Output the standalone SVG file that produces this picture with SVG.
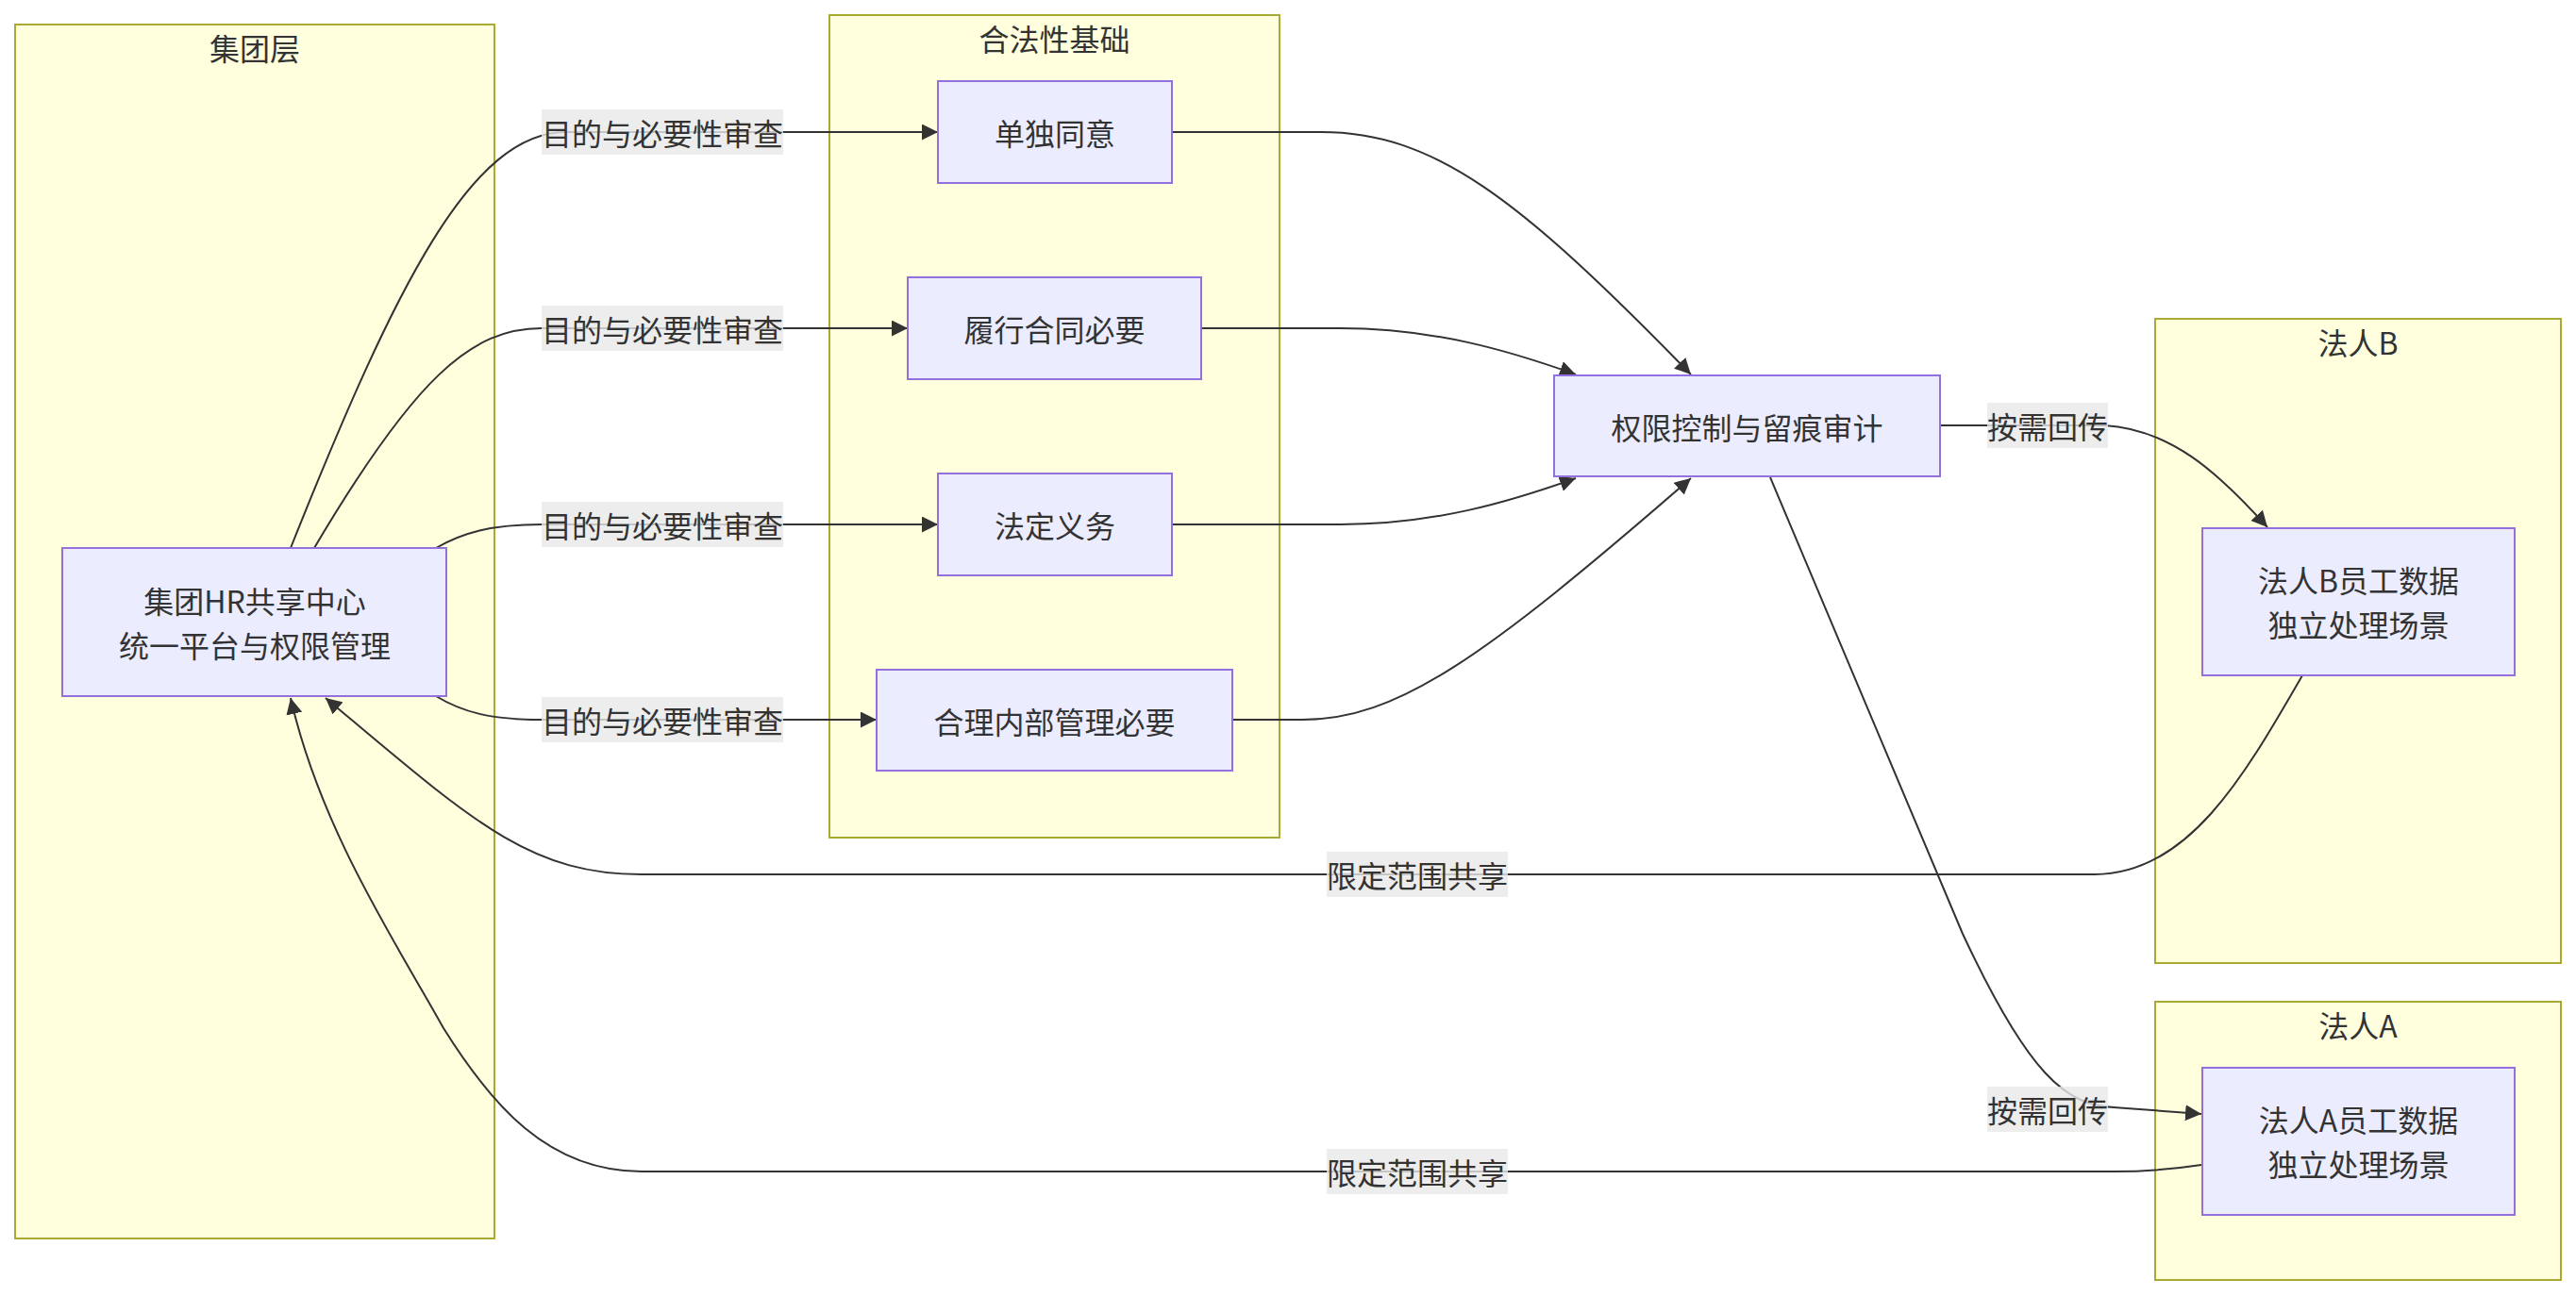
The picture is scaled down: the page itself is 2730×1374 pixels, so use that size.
<svg xmlns="http://www.w3.org/2000/svg" width="2730" height="1374" viewBox="0 0 2730 1374">
<style>
.cluster rect{fill:#ffffde;stroke:#aaaa33;stroke-width:2}
.node rect{fill:#ececff;stroke:#9370db;stroke-width:2}
text{font-family:"Noto Sans CJK SC","Noto Sans",sans-serif;font-size:32px;fill:#333;text-anchor:middle;dominant-baseline:central}
.edge{fill:none;stroke:#333;stroke-width:2}
.lbl rect{fill:#e8e8e8;fill-opacity:0.8}
</style>
<defs>
<marker id="arr" viewBox="0 0 10 10" refX="10" refY="5" markerUnits="userSpaceOnUse" markerWidth="17" markerHeight="17" orient="auto">
<path d="M0,0 L10,5 L0,10 z" fill="#333"/>
</marker>
</defs>
<rect width="2730" height="1374" fill="#ffffff"/>
<g id="cluster-group" class="cluster">
<rect x="16" y="26" width="508" height="1287"/>
<text x="270" y="50">集团层</text>
</g>
<g id="cluster-legal" class="cluster">
<rect x="879" y="16" width="477" height="872"/>
<text x="1117.5" y="40">合法性基础</text>
</g>
<g id="cluster-b" class="cluster">
<rect x="2284" y="338" width="430" height="683"/>
<text x="2499" y="362">法人B</text>
</g>
<g id="cluster-a" class="cluster">
<rect x="2284" y="1062" width="430" height="295"/>
<text x="2499" y="1086">法人A</text>
</g>
<g id="connectors">
<path class="edge" d="M308,581 C420,300 500,140 600,140 L994,140" marker-end="url(#arr)"/>
<path class="edge" d="M333,581 C440,400 500,348 574,348 L962,348" marker-end="url(#arr)"/>
<path class="edge" d="M462,581 C490,565 520,556 574,556 L994,556" marker-end="url(#arr)"/>
<path class="edge" d="M462,738 C490,755 520,763 574,763 L929,763" marker-end="url(#arr)"/>
<path class="edge" d="M1242,140 L1400,140 C1520,140 1610,210 1792,397" marker-end="url(#arr)"/>
<path class="edge" d="M1273,348 L1420,348 C1520,348 1600,372 1670,397" marker-end="url(#arr)"/>
<path class="edge" d="M1242,556 L1420,556 C1520,556 1600,532 1670,507" marker-end="url(#arr)"/>
<path class="edge" d="M1306,763 L1380,763 C1480,763 1570,700 1792,507" marker-end="url(#arr)"/>
<path class="edge" d="M2056,451 L2230,451 C2300,455 2350,500 2403,559" marker-end="url(#arr)"/>
<path class="edge" d="M1876,506 L2080,990 C2150,1140 2190,1172 2240,1174 L2333,1181" marker-end="url(#arr)"/>
<path class="edge" d="M2440,716 C2380,820 2320,927 2220,927 L680,927 C560,927 500,870 345,740" marker-end="url(#arr)"/>
<path class="edge" d="M2333,1235 C2300,1240 2270,1242 2240,1242 L680,1242 C580,1242 520,1170 470,1090 C420,1000 340,880 308,740" marker-end="url(#arr)"/>
</g>
<g id="edge-labels">
<g class="lbl"><rect x="574" y="116" width="256" height="48"/><text x="702" y="140">目的与必要性审查</text></g>
<g class="lbl"><rect x="574" y="324" width="256" height="48"/><text x="702" y="348">目的与必要性审查</text></g>
<g class="lbl"><rect x="574" y="532" width="256" height="48"/><text x="702" y="556">目的与必要性审查</text></g>
<g class="lbl"><rect x="574" y="739" width="256" height="48"/><text x="702" y="763">目的与必要性审查</text></g>
<g class="lbl"><rect x="2106" y="427" width="128" height="48"/><text x="2170" y="451">按需回传</text></g>
<g class="lbl"><rect x="2106" y="1152" width="128" height="48"/><text x="2170" y="1176">按需回传</text></g>
<g class="lbl"><rect x="1406" y="903" width="192" height="48"/><text x="1502" y="927">限定范围共享</text></g>
<g class="lbl"><rect x="1406" y="1218" width="192" height="48"/><text x="1502" y="1242">限定范围共享</text></g>
</g>
<g id="node-hr" class="node">
<rect x="66" y="581" width="407" height="157"/>
<text x="270" y="636">集团HR共享中心</text>
<text x="270" y="683">统一平台与权限管理</text>
</g>
<g id="node-consent" class="node">
<rect x="994" y="86" width="248" height="108"/>
<text x="1118" y="140">单独同意</text>
</g>
<g id="node-contract" class="node">
<rect x="962" y="294" width="311" height="108"/>
<text x="1117.5" y="348">履行合同必要</text>
</g>
<g id="node-legal" class="node">
<rect x="994" y="502" width="248" height="108"/>
<text x="1118" y="556">法定义务</text>
</g>
<g id="node-internal" class="node">
<rect x="929" y="710" width="377" height="107"/>
<text x="1117.5" y="763.5">合理内部管理必要</text>
</g>
<g id="node-audit" class="node">
<rect x="1647" y="398" width="409" height="107"/>
<text x="1851.5" y="451.5">权限控制与留痕审计</text>
</g>
<g id="node-b" class="node">
<rect x="2334" y="560" width="331" height="156"/>
<text x="2499.5" y="614">法人B员工数据</text>
<text x="2499.5" y="661">独立处理场景</text>
</g>
<g id="node-a" class="node">
<rect x="2334" y="1132" width="331" height="156"/>
<text x="2499.5" y="1186">法人A员工数据</text>
<text x="2499.5" y="1233">独立处理场景</text>
</g>
</svg>
